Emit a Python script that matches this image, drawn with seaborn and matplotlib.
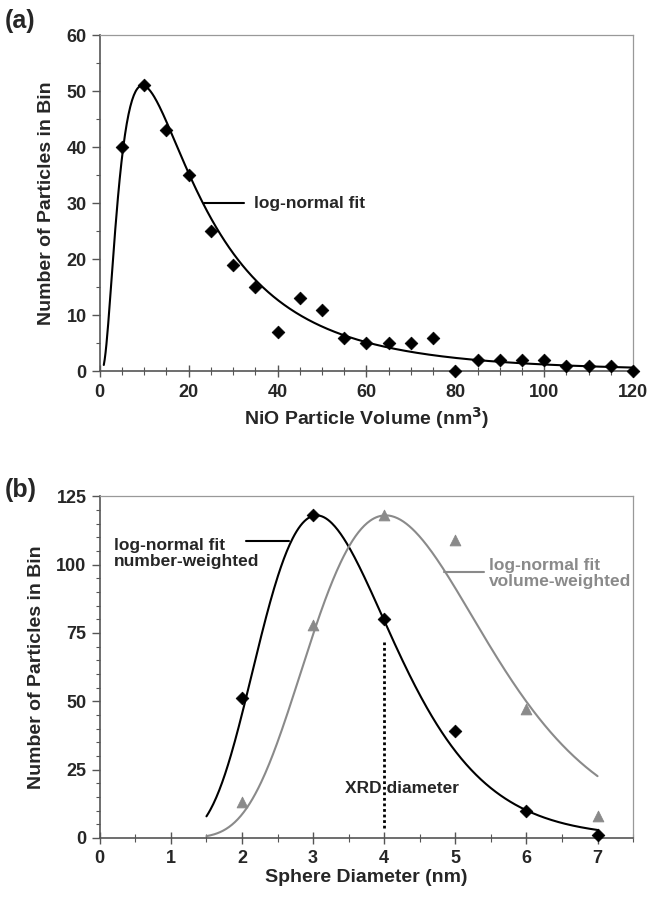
import numpy as np
import pandas as pd
import matplotlib
matplotlib.use("Agg")
import matplotlib.pyplot as plt
import seaborn as sns
from matplotlib.ticker import MultipleLocator

# ---- data ----
# (a) volume distribution
vol_bins = [5, 10, 15, 20, 25, 30, 35, 40, 45, 50, 55, 60, 65, 70, 75, 80,
            85, 90, 95, 100, 105, 110, 115, 120]
vol_counts = [40, 51, 43, 35, 25, 19, 15, 7, 13, 11, 6, 5, 5, 5, 6, 0,
              2, 2, 2, 2, 1, 1, 1, 0]
# log-normal fit parameters (a)
fit_a_peak = 51.0
fit_a_mode = 9.6
fit_a_sigma = 0.857

# (b) diameter distribution
diam_bins = [2, 3, 4, 5, 6, 7]
num_weighted = [51, 118, 80, 39, 10, 1]
vol_weighted = [13, 78, 118, 109, 47, 8]
# log-normal fit parameters (b)
fit_b_peak = 118.0
fit_b_mode_num = 3.05
fit_b_mode_vol = 4.02
fit_b_sigma = 0.305
xrd_diameter = 4.0


def lognormal(x, peak, mode, sigma):
    return peak * np.exp(-(np.log(x) - np.log(mode)) ** 2 / (2 * sigma ** 2))


sns.set_theme(style="ticks")
plt.rcParams["font.family"] = ["Liberation Sans", "DejaVu Sans"]
plt.rcParams["font.weight"] = "bold"
plt.rcParams["mathtext.default"] = "bf"

gray = "#8a8a8a"
tick_fs = 13
label_fs = 14
note_fs = 12.5

fig = plt.figure(figsize=(6.48, 8.99), dpi=100)
ax1 = fig.add_axes([0.154, 0.587, 0.823, 0.374])
ax2 = fig.add_axes([0.154, 0.068, 0.823, 0.380])

# ---------- panel (a) ----------
df_a = pd.DataFrame({"vol": vol_bins, "n": vol_counts})
xa = np.linspace(0.9, 120, 600)
fit_a = pd.DataFrame({"vol": xa, "n": lognormal(xa, fit_a_peak, fit_a_mode, fit_a_sigma)})
sns.lineplot(data=fit_a, x="vol", y="n", ax=ax1, color="black", lw=1.5)
sns.scatterplot(data=df_a, x="vol", y="n", ax=ax1, marker="D", color="black",
                s=42, edgecolor="black", clip_on=False, zorder=5)
ax1.plot([23.4, 32.4], [30, 30], color="black", lw=1.5)
ax1.text(34.8, 30, "log-normal fit", fontsize=note_fs, fontweight="bold", va="center")
ax1.set_xlim(0, 120)
ax1.set_ylim(0, 60)
ax1.xaxis.set_major_locator(MultipleLocator(20))
ax1.xaxis.set_minor_locator(MultipleLocator(5))
ax1.yaxis.set_major_locator(MultipleLocator(10))
ax1.yaxis.set_minor_locator(MultipleLocator(5))
ax1.set_xlabel("NiO Particle Volume (nm$^3$)", fontsize=label_fs, fontweight="bold", labelpad=3)
ax1.set_ylabel("Number of Particles in Bin", fontsize=label_fs, fontweight="bold", labelpad=8)
fig.text(0.008, 0.977, "(a)", fontsize=18, fontweight="bold", va="center")

# ---------- panel (b) ----------
df_b = pd.DataFrame({"d": diam_bins, "num": num_weighted, "vol": vol_weighted})
xb = np.linspace(1.5, 7, 400)
fit_b = pd.DataFrame({
    "d": xb,
    "num": lognormal(xb, fit_b_peak, fit_b_mode_num, fit_b_sigma),
    "vol": lognormal(xb, fit_b_peak, fit_b_mode_vol, fit_b_sigma),
})
sns.lineplot(data=fit_b, x="d", y="num", ax=ax2, color="black", lw=1.5)
sns.lineplot(data=fit_b, x="d", y="vol", ax=ax2, color=gray, lw=1.5)
sns.scatterplot(data=df_b, x="d", y="num", ax=ax2, marker="D", color="black",
                s=42, edgecolor="black", clip_on=False, zorder=5)
sns.scatterplot(data=df_b, x="d", y="vol", ax=ax2, marker="^", color=gray,
                s=60, edgecolor=gray, clip_on=False, zorder=5)
ax2.vlines(xrd_diameter, 3.6, 71.6, colors="black", linestyles=(0, (1, 1)), lw=2, zorder=4)
ax2.text(3.45, 18.2, "XRD diameter", fontsize=note_fs, fontweight="bold", va="center", zorder=3)
ax2.plot([2.06, 2.66], [108.6, 108.6], color="black", lw=1.5)
ax2.text(0.2, 104, "log-normal fit\nnumber-weighted", fontsize=note_fs, fontweight="bold",
         va="center", linespacing=1.1)
ax2.plot([4.84, 5.41], [97.1, 97.1], color=gray, lw=1.5)
ax2.text(5.47, 96.6, "log-normal fit\nvolume-weighted", fontsize=note_fs, fontweight="bold",
         va="center", color=gray, linespacing=1.1)
ax2.set_xlim(0, 7.5)
ax2.set_ylim(0, 125)
ax2.xaxis.set_major_locator(MultipleLocator(1))
ax2.xaxis.set_minor_locator(MultipleLocator(0.5))
ax2.yaxis.set_major_locator(MultipleLocator(25))
ax2.yaxis.set_minor_locator(MultipleLocator(5))
ax2.set_xticks(range(0, 8))
ax2.set_xlabel("Sphere Diameter (nm)", fontsize=label_fs, fontweight="bold", labelpad=1)
ax2.set_ylabel("Number of Particles in Bin", fontsize=label_fs, fontweight="bold", labelpad=8)
fig.text(0.008, 0.455, "(b)", fontsize=18, fontweight="bold", va="center")

for ax in (ax1, ax2):
    for side in ("left", "bottom"):
        ax.spines[side].set_color("#555555")
        ax.spines[side].set_linewidth(1.2)
    for side in ("top", "right"):
        ax.spines[side].set_visible(True)
        ax.spines[side].set_color("#999999")
        ax.spines[side].set_linewidth(0.9)
    ax.tick_params(axis="x", which="major", direction="inout", length=8, width=1,
                   color="#555555", labelsize=tick_fs, pad=5)
    ax.tick_params(axis="x", which="minor", direction="inout", length=6, width=0.8,
                   color="#555555")
    ax.tick_params(axis="y", which="major", direction="out", length=6, width=1,
                   color="#555555", labelsize=tick_fs)
    ax.tick_params(axis="y", which="minor", direction="out", length=3, width=0.8,
                   color="#555555")
    for lab in ax.get_xticklabels() + ax.get_yticklabels():
        lab.set_fontweight("bold")

fig.savefig("out.png", dpi=100)
